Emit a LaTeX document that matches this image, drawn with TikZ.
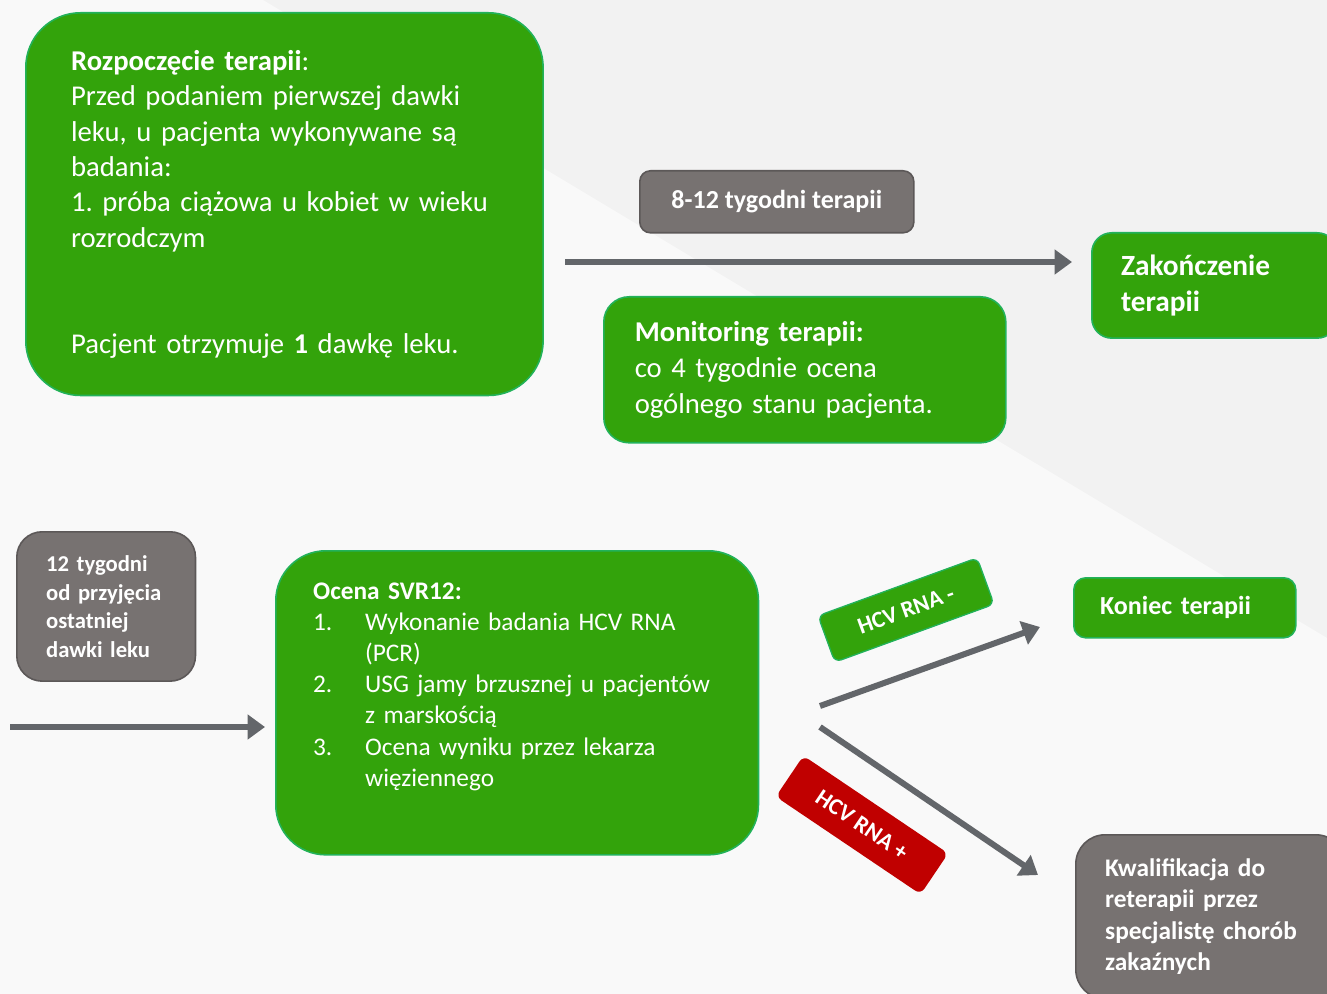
\documentclass[tikz,border=0pt]{standalone}
\usepackage{xcolor}
\usepackage{fontspec}
\setmainfont{Carlito}
\usepackage{tikz}
\usetikzlibrary{arrows.meta}
\frenchspacing

\definecolor{boxgreen}{HTML}{33A30B}
\definecolor{edgegreen}{HTML}{22B25A}
\definecolor{boxgray}{HTML}{777271}
\definecolor{edgegray}{HTML}{5C5858}
\definecolor{flowgray}{HTML}{63666A}
\definecolor{boxred}{HTML}{C00000}
\definecolor{bgdark}{HTML}{F2F2F2}
\definecolor{bglight}{HTML}{F9F9F9}

\begin{document}
\begin{tikzpicture}[x=0.75pt,y=-0.75pt,
  greenbox/.style={draw=edgegreen, line width=1.2pt, fill=boxgreen, text=white, align=left, anchor=north west},
  graybox/.style={draw=edgegray, line width=1.2pt, fill=boxgray, text=white, align=left, anchor=north west},
  tag/.style={fill=#1, text=white, rounded corners=5pt, font=\fontsize{17.5pt}{20pt}\selectfont\bfseries, minimum height=37pt, inner sep=0pt},
  flow/.style={draw=flowgray, line width=4.5pt, -{Triangle[length=13pt,width=18pt]}}]
% Background
\clip (0,0) rectangle (1327,994);
\fill[bgdark] (0,0) rectangle (1327,994);
\fill[bglight] (263,0) -- (1327,638) -- (1327,994) -- (0,994) -- (0,0) -- cycle;

% Top row
\node[greenbox, rounded corners=41pt, minimum width=388pt, minimum height=287pt, text width=320pt, inner xsep=34pt,
  font=\fontsize{21.5pt}{26.5pt}\selectfont] (start) at (25,12)
  {\textbf{Rozpoczęcie terapii}:\\ Przed podaniem pierwszej dawki\\ leku, u pacjenta wykonywane są\\ badania:\\
   1. próba ciążowa u kobiet w wieku\\ rozrodczym\\[2\baselineskip] Pacjent otrzymuje \textbf{1} dawkę leku.};
\node[graybox, rounded corners=8pt, minimum width=205.5pt, minimum height=46.5pt, align=center,
  font=\fontsize{19.5pt}{22pt}\selectfont\bfseries] (course) at (639,170) {8-12 tygodni terapii};
\node[greenbox, rounded corners=15pt, minimum width=184pt, minimum height=79pt, text width=140pt, inner xsep=22pt,
  font=\fontsize{22pt}{27pt}\selectfont\bfseries] (finish) at (1091,232) {Zakończenie\\ terapii};
\node[greenbox, rounded corners=19pt, minimum width=301.5pt, minimum height=109.5pt, text width=255pt, inner xsep=23pt,
  font=\fontsize{21.5pt}{27pt}\selectfont] (monitor) at (603,296)
  {\textbf{Monitoring terapii:}\\ co 4 tygodnie ocena\\ ogólnego stanu pacjenta.};
\coordinate (m1) at (565,262);
\coordinate (m2) at (1072,262);
\draw[flow] (m1) -- (m2);

% Bottom row
\node[graybox, rounded corners=19pt, minimum width=134pt, minimum height=112pt, text width=90pt, inner xsep=22pt,
  font=\fontsize{17pt}{21.4pt}\selectfont\bfseries] (wait) at (16,531)
  {12 tygodni\\ od przyjęcia\\ ostatniej\\ dawki leku};
\node[greenbox, rounded corners=37.5pt, minimum width=362pt, minimum height=228pt, text width=306pt, inner xsep=28pt,
  font=\fontsize{19pt}{23.3pt}\selectfont] (svr) at (275,550)
  {\textbf{Ocena SVR12:}\\
   \makebox[39pt][l]{1.}Wykonanie badania HCV RNA\\ \hspace*{39pt}(PCR)\\
   \makebox[39pt][l]{2.}USG jamy brzusznej u pacjentów\\ \hspace*{39pt}z marskością\\
   \makebox[39pt][l]{3.}Ocena wyniku przez lekarza\\ \hspace*{39pt}więziennego\\[4pt]\mbox{}};
\node[greenbox, rounded corners=9pt, minimum width=166.5pt, minimum height=45pt, text width=127pt, inner xsep=19.5pt,
  font=\fontsize{19.5pt}{22pt}\selectfont\bfseries] (stop) at (1073,577) {Koniec terapii};
\node[graybox, rounded corners=22pt, minimum width=202pt, minimum height=123pt, text width=158pt, inner xsep=22pt,
  font=\fontsize{19pt}{23.6pt}\selectfont\bfseries] (retreat) at (1075,834)
  {Kwalifikacja do\\ reterapii przez\\ specjalistę chorób\\ zakaźnych};
\coordinate (w1) at (10,727);
\coordinate (w2) at (265,727);
\draw[flow] (w1) -- (w2);
\coordinate (s1) at (820,706);
\coordinate (s2) at (1040,627);
\coordinate (s3) at (820,727);
\coordinate (s4) at (1038,875);
\draw[flow] (s1) -- (s2);
\draw[flow] (s3) -- (s4);
\node[tag=boxgreen, draw=edgegreen, line width=1pt, minimum width=127pt, rotate=20] (neg) at (906,610) {HCV RNA -};
\node[tag=boxred, minimum width=131pt, rotate=-34] (pos) at (862,825) {HCV RNA +};
\end{tikzpicture}
\end{document}
